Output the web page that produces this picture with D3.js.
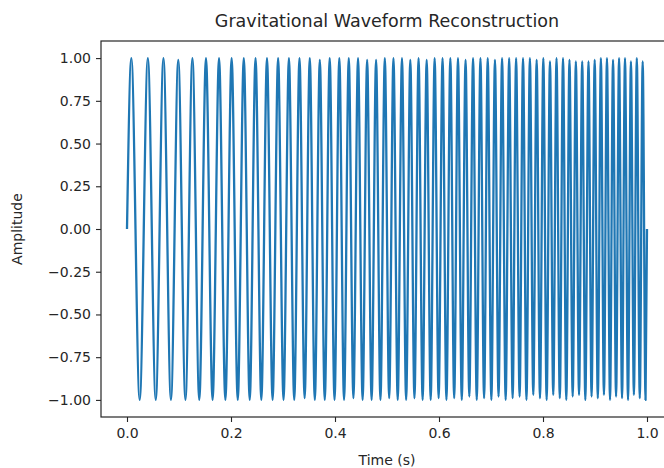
<!DOCTYPE html>
<html>
<head>
<meta charset="utf-8">
<script src="https://cdn.jsdelivr.net/npm/d3@7"></script>
<style>
  body { margin: 0; background: #fff; overflow: hidden; }
  svg text { font-family: "DejaVu Sans", sans-serif; fill: #262626; }
</style>
</head>
<body>
<div id="chart"></div>
<script>
// chart text
var titleText = "Gravitational Waveform Reconstruction";
var xLabel = "Time (s)";
var yLabel = "Amplitude";
var xTicks = [0.0, 0.2, 0.4, 0.6, 0.8, 1.0];
var yTicks = [-1.0, -0.75, -0.5, -0.25, 0.0, 0.25, 0.5, 0.75, 1.0];

// start / end of the trace
var startPoint = [0.0, 0.0];
var endPoint = [1.0, 0.0];

// crest times (s)
var peakTimes = [0.0083, 0.0401, 0.0701, 0.0986, 0.1258, 0.1519, 0.1770, 0.2012, 0.2246, 0.2472,
    0.2692, 0.2906, 0.3114, 0.3317, 0.3515, 0.3708, 0.3898, 0.4083, 0.4265, 0.4443,
    0.4618, 0.4790, 0.4958, 0.5124, 0.5288, 0.5448, 0.5607, 0.5763, 0.5916, 0.6068,
    0.6218, 0.6365, 0.6511, 0.6655, 0.6797, 0.6937, 0.7076, 0.7213, 0.7349, 0.7483,
    0.7616, 0.7748, 0.7878, 0.8006, 0.8134, 0.8260, 0.8385, 0.8509, 0.8632, 0.8754,
    0.8875, 0.8994, 0.9113, 0.9230, 0.9347, 0.9463, 0.9577, 0.9691, 0.9804, 0.9917];
var peakValues = [1.00, 1.00, 1.00, 0.99, 1.00, 1.00, 1.00, 1.00, 1.00, 1.00,
    1.00, 1.00, 1.00, 1.00, 1.00, 0.99, 1.00, 1.00, 1.00, 1.00,
    0.99, 0.99, 1.00, 1.00, 1.00, 0.99, 1.00, 0.99, 1.00, 1.00,
    1.00, 1.00, 0.99, 1.00, 1.00, 1.00, 0.99, 1.00, 1.00, 1.00,
    1.00, 1.00, 0.99, 1.00, 0.98, 1.00, 1.00, 0.99, 0.98, 0.98,
    0.98, 0.99, 1.00, 1.00, 0.99, 1.00, 1.00, 0.98, 1.00, 0.98];

// trough times (s)
var troughTimes = [0.0244, 0.0553, 0.0845, 0.1124, 0.1390, 0.1646, 0.1892, 0.2130, 0.2360, 0.2583,
    0.2800, 0.3010, 0.3216, 0.3416, 0.3612, 0.3803, 0.3991, 0.4174, 0.4354, 0.4531,
    0.4704, 0.4874, 0.5042, 0.5206, 0.5368, 0.5528, 0.5685, 0.5840, 0.5993, 0.6143,
    0.6292, 0.6438, 0.6583, 0.6726, 0.6867, 0.7007, 0.7145, 0.7282, 0.7416, 0.7550,
    0.7682, 0.7813, 0.7942, 0.8070, 0.8197, 0.8323, 0.8448, 0.8571, 0.8693, 0.8814,
    0.8934, 0.9054, 0.9172, 0.9289, 0.9405, 0.9520, 0.9635, 0.9748, 0.9861, 0.9972];
var troughValues = [-1.00, -1.00, -1.00, -1.00, -1.00, -1.00, -1.00, -1.00, -1.00, -1.00,
    -1.00, -1.00, -1.00, -0.99, -1.00, -1.00, -1.00, -1.00, -0.99, -1.00,
    -1.00, -1.00, -0.99, -1.00, -1.00, -0.99, -1.00, -1.00, -0.99, -1.00,
    -0.99, -1.00, -0.98, -1.00, -0.99, -1.00, -0.98, -1.00, -0.99, -0.98,
    -1.00, -0.97, -0.99, -1.00, -0.97, -0.99, -1.00, -0.98, -0.97, -1.00,
    -0.98, -0.99, -0.97, -1.00, -0.98, -0.99, -1.00, -0.97, -0.99, -1.00];

var W = 664, H = 468;
var margin = {left: 101, top: 41, right: -9, bottom: 51};
var plotW = W - margin.left - margin.right;
var plotH = H - margin.top - margin.bottom;

var svg = d3.select("#chart").append("svg")
    .attr("width", W)
    .attr("height", H);

// matplotlib style 5% padding on both axes
var x = d3.scaleLinear().domain([-0.05, 1.05]).range([0, plotW]);
var y = d3.scaleLinear().domain([-1.1, 1.1]).range([plotH, 0]);

var g = svg.append("g").attr("transform", "translate(" + margin.left + "," + margin.top + ")");

// build the trace: start, alternating crest/trough, end
var points = [startPoint];
for (var i = 0; i < peakTimes.length; i++) {
    points.push([peakTimes[i], peakValues[i]]);
    points.push([troughTimes[i], troughValues[i]]);
}
points.push(endPoint);

var line = d3.line()
    .x(function (d) { return x(d[0]); })
    .y(function (d) { return y(d[1]); })
    .curve(d3.curveMonotoneX);

g.append("path")
    .datum(points)
    .attr("fill", "none")
    .attr("stroke", "#1f77b4")
    .attr("stroke-width", 2.3)
    .attr("stroke-linejoin", "round")
    .attr("d", line);

var fmtMinus = function (s) { return s.replace("-", "\u2212"); };

var xAxis = g.append("g")
    .attr("transform", "translate(0," + plotH + ")")
    .call(d3.axisBottom(x).tickValues(xTicks).tickSize(5).tickPadding(6)
        .tickFormat(function (d) { return fmtMinus(d3.format(".1f")(d)); }));

var yAxis = g.append("g")
    .call(d3.axisLeft(y).tickValues(yTicks).tickSize(5).tickPadding(5)
        .tickFormat(function (d) { return fmtMinus(d3.format(".2f")(d)); }));

[xAxis, yAxis].forEach(function (a) {
    a.select(".domain").remove();
    a.selectAll(".tick line").attr("stroke", "#262626").attr("stroke-width", 1.1);
    a.selectAll(".tick text").style("font-size", "14px").attr("fill", "#262626");
});

// axes frame
g.append("rect")
    .attr("x", 0).attr("y", 0)
    .attr("width", plotW).attr("height", plotH)
    .attr("fill", "none")
    .attr("stroke", "#262626")
    .attr("stroke-width", 1.2);

svg.append("text")
    .attr("x", margin.left + plotW / 2)
    .attr("y", 27)
    .attr("text-anchor", "middle")
    .style("font-size", "17.5px")
    .text(titleText);

svg.append("text")
    .attr("x", margin.left + plotW / 2)
    .attr("y", 465)
    .attr("text-anchor", "middle")
    .style("font-size", "14px")
    .text(xLabel);

svg.append("text")
    .attr("transform", "translate(22," + (margin.top + plotH / 2) + ") rotate(-90)")
    .attr("text-anchor", "middle")
    .style("font-size", "14px")
    .text(yLabel);
</script>
</body>
</html>
